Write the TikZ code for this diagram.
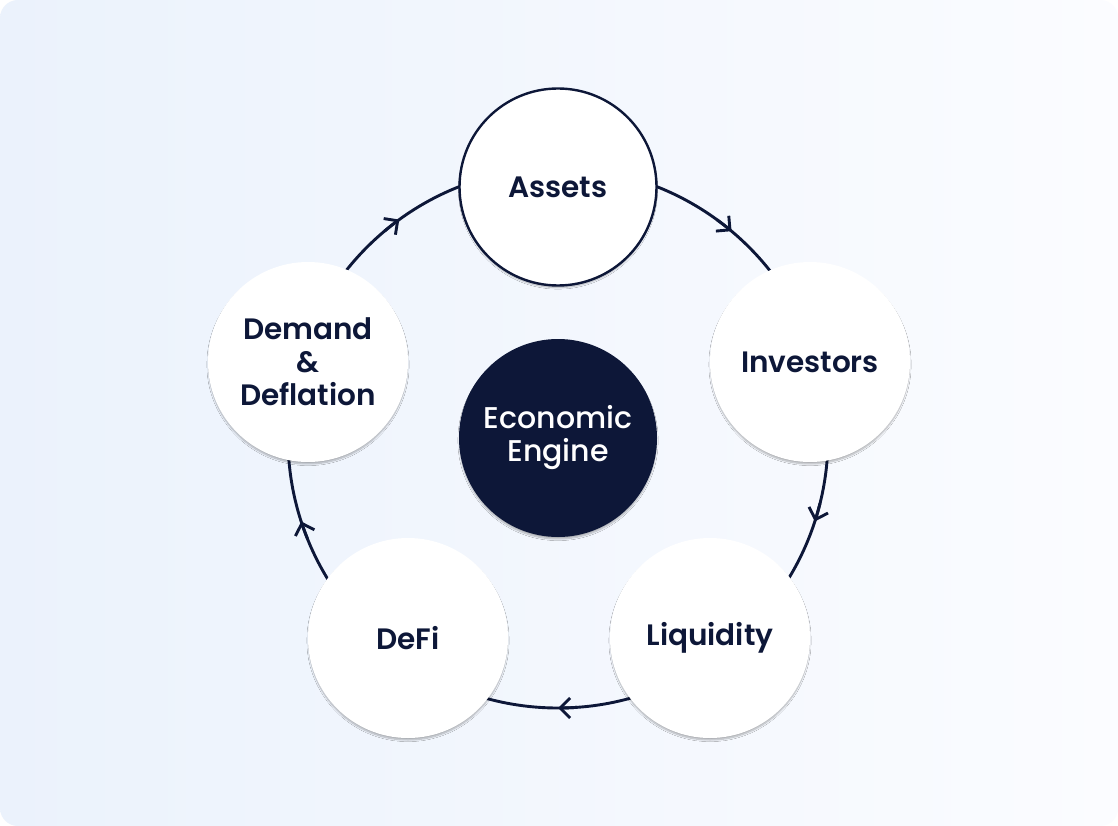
\documentclass[tikz,border=0pt]{standalone}
\usepackage{fontspec}
\setmainfont{Poppins}[BoldFont={Poppins SemiBold}]
\newfontfamily\medfont{Poppins Medium}
\usetikzlibrary{arrows.meta,shadows.blur,calc}
\definecolor{navy}{RGB}{13,23,56}
\definecolor{bgL}{RGB}{235,242,252}
\definecolor{bgR}{RGB}{251,252,255}
\begin{document}
\begin{tikzpicture}[x=1pt,y=1pt,
  ring/.style={draw=navy, line width=2.9pt},
  tipstyle/.style={-{Straight Barb[length=10pt,width=20pt]}},
  softshadow/.style={blur shadow={shadow xshift=0pt, shadow yshift=-2.5pt, shadow scale=0.995,
      shadow blur radius=1.6pt, shadow opacity=30, shadow blur steps=8}},
  bubble/.style={circle, minimum size=200pt, inner sep=0pt, fill=white, text=navy,
    font=\fontsize{29.5}{33}\selectfont\bfseries, align=center, softshadow},
  outlined/.style={draw=navy, line width=2.4pt, minimum size=197pt},
  engine/.style={circle, minimum size=198pt, inner sep=0pt, fill=navy, text=white,
    font=\fontsize{30}{33}\selectfont\medfont, align=center, softshadow}
]
\fill[white] (0,0) rectangle (1118,-826);
\shade[left color=bgL, right color=bgR, rounded corners=18pt] (0,0) rectangle (1118,-826);
\useasboundingbox (0,0) rectangle (1118,-826);
\coordinate (c) at (558,-438);
\draw[ring] (c) circle[radius=270];
\foreach \t in {50,-18,-90,198,126}{
  \draw[ring, tipstyle] ($(c)+(\t+4:270)$) arc[start angle=\t+4, end angle=\t, radius=270];
}
\node[bubble, outlined] (assets) at (558,-187) {Assets};
\node[bubble] (investors) at (810,-362) {Investors};
\node[bubble] (liquidity) at (710,-638) {Liquidity};
\node[bubble] (defi) at (408,-638) {DeFi};
\node[bubble] (demand) at (308,-362) {Demand\\\&\\Deflation};
\node[engine] (engine) at (558,-438) {Economic\\Engine};
\end{tikzpicture}
\end{document}
